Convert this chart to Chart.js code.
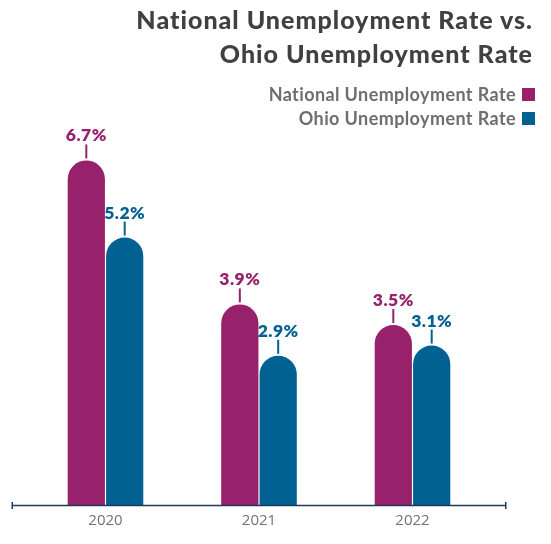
<!DOCTYPE html>
<html><head><meta charset="utf-8">
<script src="https://cdn.jsdelivr.net/npm/chart.js@4/dist/chart.umd.min.js"></script>
<style>
html,body{margin:0;padding:0;background:#fff;}
#wrap{position:relative;width:551px;height:544px;}
#title{position:absolute;right:18px;top:2px;text-align:right;font-family:Lato,sans-serif;font-weight:900;font-size:25px;line-height:34px;letter-spacing:1px;color:#404040;}
#legend{position:absolute;right:16px;top:82px;text-align:right;font-family:Lato,sans-serif;font-weight:700;font-size:18px;line-height:24px;letter-spacing:0.4px;color:#6d6e71;}
#legend span.box{display:inline-block;width:13px;height:13px;margin-left:6px;vertical-align:0px;}
canvas{position:absolute;left:0;top:0;}
</style></head>
<body><div id="wrap">
<canvas id="c" width="551" height="544"></canvas>
<div id="title">National Unemployment Rate vs.<br>Ohio Unemployment Rate</div>
<div id="legend"></div>
</div>
<script>
const categories = ["2020", "2021", "2022"];
const seriesNames = ["National Unemployment Rate", "Ohio Unemployment Rate"];
const nationalRate = [6.7, 3.9, 3.5];
const ohioRate = [5.2, 2.9, 3.1];
const colors = ["#97216b", "#006192"];

document.getElementById('legend').innerHTML = seriesNames.map((n,i)=>
  '<div>'+n+'<span class="box" style="background:'+colors[i]+'"></span></div>').join('');

const labelPlugin = {
  id: 'valueLabels',
  afterDatasetsDraw(chart) {
    const ctx = chart.ctx;
    ctx.save();
    chart.data.datasets.forEach((ds, di) => {
      chart.getDatasetMeta(di).data.forEach((bar, i) => {
        const x = bar.x, top = bar.y;
        ctx.strokeStyle = colors[di];
        ctx.lineWidth = 2;
        ctx.beginPath();
        ctx.moveTo(x, top - 16);
        ctx.lineTo(x, top - 2);
        ctx.stroke();
        ctx.fillStyle = colors[di];
        ctx.font = '800 17.5px Lato, sans-serif';
        if ('letterSpacing' in ctx) ctx.letterSpacing = '0.5px';
        ctx.textAlign = 'center';
        ctx.textBaseline = 'alphabetic';
        ctx.fillText(ds.data[i].toFixed(1) + '%', x, top - 19);
      });
    });
    ctx.restore();
  }
};
const axisPlugin = {
  id: 'axisLine',
  afterDraw(chart) {
    const ctx = chart.ctx, a = chart.chartArea;
    const y = a.bottom + 0.5, l = a.left - 16.5, r = a.right + 16.5;
    ctx.save();
    ctx.strokeStyle = '#1f3a5c';
    ctx.lineWidth = 1.5;
    ctx.beginPath();
    ctx.moveTo(l, y); ctx.lineTo(r, y);
    ctx.moveTo(l, y - 3.5); ctx.lineTo(l, y + 3.5);
    ctx.moveTo(r, y - 3.5); ctx.lineTo(r, y + 3.5);
    ctx.stroke();
    ctx.restore();
  }
};

new Chart(document.getElementById('c'), {
  type: 'bar',
  data: {
    labels: categories,
    datasets: [
      { label: seriesNames[0], data: nationalRate, backgroundColor: colors[0] },
      { label: seriesNames[1], data: ohioRate, backgroundColor: colors[1] }
    ]
  },
  options: {
    responsive: false,
    animation: false,
    layout: { padding: { left: 28.75, right: 61.75, top: 93.6, bottom: 7 } },
    datasets: { bar: {
      categoryPercentage: 0.5, barPercentage: 0.97,
      borderRadius: { topLeft: 100, topRight: 100, bottomLeft: 0, bottomRight: 0 },
      borderSkipped: 'bottom'
    } },
    plugins: { legend: { display: false }, title: { display: false }, tooltip: { enabled: false } },
    scales: {
      x: {
        grid: { display: false, drawTicks: false },
        border: { display: false },
        ticks: { color: '#727272', font: { family: 'Open Sans', size: 15 }, padding: 7 }
      },
      y: { display: false, min: 0, max: 8 }
    }
  },
  plugins: [labelPlugin, axisPlugin]
});
</script>
</body></html>
